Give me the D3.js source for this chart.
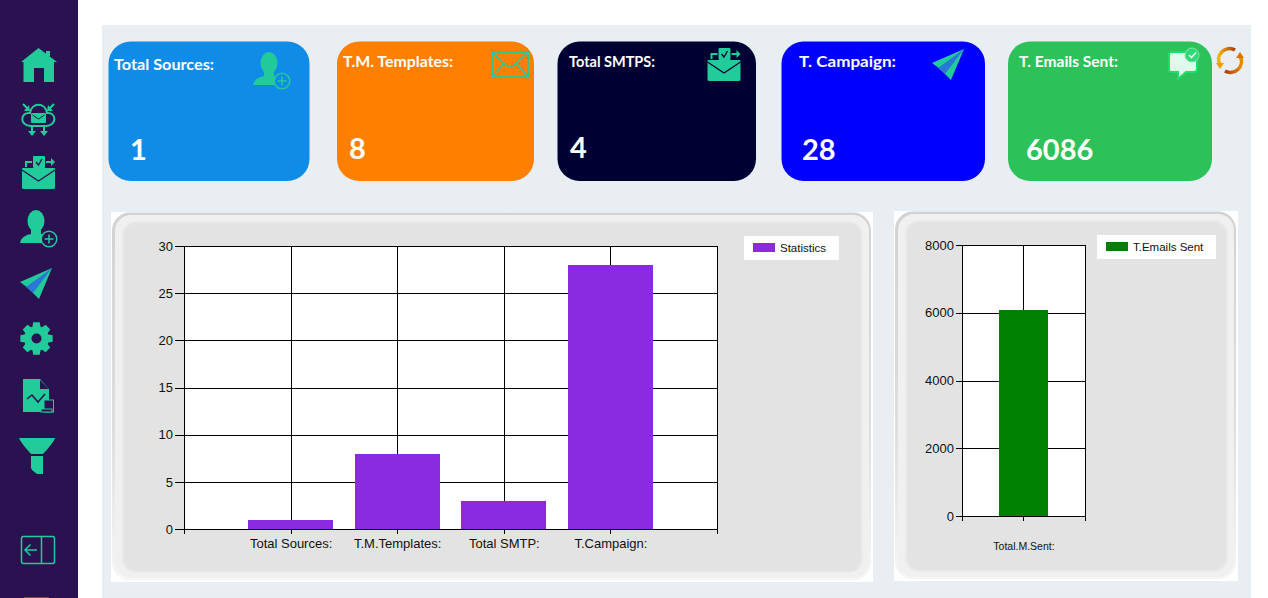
<!DOCTYPE html>
<html>
<head>
<meta charset="utf-8">
<title>Dashboard</title>
<script src="https://cdn.jsdelivr.net/npm/d3@7"></script>
<style>
    html, body { margin: 0; padding: 0; background: #fff; overflow: hidden; }
    svg { display: block; }
    .card-text { font-family: Lato, "Open Sans", sans-serif; font-weight: 700; fill: #fff; }
    .chart-text { font-family: "Liberation Sans", Arial, sans-serif; fill: #111; }
</style>
</head>
<body>
<div id="dashboard"></div>
<script>
// Values
const cardLabels = ["Total Sources:", "T.M. Templates:", "Total SMTPS:", "T. Campaign:", "T. Emails Sent:"];
const cardValues = [1, 8, 4, 28, 6086];

const statCategories = ["Total Sources:", "T.M.Templates:", "Total SMTP:", "T.Campaign:"];
const statValues = [1, 8, 3, 28];
const statTicks = [0, 5, 10, 15, 20, 25, 30];
const statSeries = "Statistics";

const sentCategories = ["Total.M.Sent:"];
const sentValues = [6086];
const sentTicks = [0, 2000, 4000, 6000, 8000];
const sentSeries = "T.Emails Sent";

// Layout of the cards
const cardBoxes = [
    { x: 108.5, w: 201, fill: "#118ce6", labelX: 114, labelY: 70, labelW: 100, valueX: 130, valueY: 160 },
    { x: 337, w: 197, fill: "#ff8000", labelX: 343, labelY: 67, labelW: 110, valueX: 349, valueY: 159 },
    { x: 557.5, w: 198.5, fill: "#000033", labelX: 569, labelY: 67, labelW: 86, valueX: 570, valueY: 158 },
    { x: 781.5, w: 203.5, fill: "#0000ff", labelX: 799, labelY: 67, labelW: 97, valueX: 802, valueY: 160 },
    { x: 1008, w: 204, fill: "#2dc259", labelX: 1019, labelY: 67, labelW: 99, valueX: 1026, valueY: 160 }
];

const teal = "#22cb9a";
const navy = "#2a1150";

const svg = d3.select("#dashboard").append("svg")
    .attr("width", 1268)
    .attr("height", 598);

const defs = svg.append("defs");
defs.append("filter").attr("id", "soft").append("feGaussianBlur").attr("stdDeviation", 1.2);
defs.append("filter").attr("id", "softer").append("feGaussianBlur").attr("stdDeviation", 0.6);

// Background
svg.append("rect").attr("x", 102).attr("y", 25).attr("width", 1149).attr("height", 573).attr("fill", "#e9eef3");
svg.append("rect").attr("width", 78).attr("height", 598).attr("fill", navy);
svg.append("rect").attr("x", 24).attr("y", 597).attr("width", 25).attr("height", 1).attr("fill", "#b03040");

// ---- icons, each drawn from its own top left corner ----
function iconHome(g) {
    g.append("path").attr("fill", teal)
        .attr("d", "M17.5 0 L36 14 L33 14 L33 34 L23 34 L23 20 L13 20 L13 34 L2.5 34 L2.5 14 L0 14 Z");
    g.append("rect").attr("x", 25).attr("y", 3).attr("width", 4).attr("height", 5).attr("fill", teal);
}

function iconCloud(g) {
    g.append("path").attr("fill", "none").attr("stroke", teal).attr("stroke-width", 2)
        .attr("d", "M9 23 C-3 23 -2 9 8 10 C10 -1 23 -1 25 10 C35 9 35 23 24 23 Z");
    g.append("rect").attr("x", 9).attr("y", 10).attr("width", 15).attr("height", 10).attr("rx", 1).attr("fill", teal);
    g.append("path").attr("fill", "none").attr("stroke", navy).attr("d", "M10.5 12 L16.5 16 L22.5 12");
    g.append("path").attr("fill", "none").attr("stroke", teal).attr("stroke-width", 2)
        .attr("d", "M1 1 L6 6 M32 1 L27 6 M10 23 L10 29 M22 23 L22 29");
    g.append("path").attr("fill", teal)
        .attr("d", "M7 2 L8 8 L2 8 Z M26 2 L25 8 L31 8 Z M6 28 L14 28 L10 33 Z M18 28 L26 28 L22 33 Z");
}

function iconEnvelopeCheck(g, back) {
    g.append("rect").attr("x", 11).attr("y", 0).attr("width", 12).attr("height", 12).attr("rx", 1).attr("fill", teal);
    g.append("path").attr("fill", "none").attr("stroke", back).attr("stroke-width", 1.3).attr("d", "M14 6 L16.5 9 L20 3");
    g.append("path").attr("fill", "none").attr("stroke", teal).attr("stroke-width", 2).attr("d", "M4 11 L4 6 L10 6 M24 6 L30 6");
    g.append("path").attr("fill", teal).attr("d", "M29 2 L33 6 L29 10 Z");
    g.append("path").attr("fill", teal).attr("d", "M1 12 L32 12 Q33 12 33 13 L33 32 Q33 33 31 33 L2 33 Q0 33 0 32 L0 13 Q0 12 1 12 Z");
    g.append("path").attr("fill", "none").attr("stroke", back).attr("stroke-width", 1.2).attr("d", "M0 14 L16.5 25 L33 14");
}

function iconUser(g, back, fill) {
    g.append("ellipse").attr("cx", 16).attr("cy", 10).attr("rx", 8.5).attr("ry", 11).attr("fill", fill);
    g.append("path").attr("fill", fill).attr("d", "M0 32 Q1 25 11 23 L11 17 L21 17 L21 23 Q27 24 29 32 Z");
    g.append("circle").attr("cx", 29).attr("cy", 28).attr("r", 7.8).attr("fill", back).attr("stroke", fill).attr("stroke-width", 1.5);
    g.append("path").attr("fill", "none").attr("stroke", fill).attr("stroke-width", 1.5).attr("d", "M24.5 28 L33.5 28 M29 23.5 L29 32.5");
}

function iconPlane(g) {
    g.append("path").attr("fill", teal).attr("d", "M32 0 L0 14 L8 20 L19 31 Z");
    g.append("path").attr("fill", "#2a78d6").attr("d", "M32 0 L6 19 L13 25 Z");
}

function iconGear(g) {
    // 8 teeth around a ring
    const r1 = 16.5, r2 = 12.5;
    const pts = [];
    for (let i = 0; i < 8; i++) {
        const a = i * Math.PI / 4 - Math.PI / 2;
        [[-0.33, r2], [-0.2, r1], [0.2, r1], [0.33, r2]].forEach(p => {
            pts.push([17 + p[1] * Math.cos(a + p[0]), 17 + p[1] * Math.sin(a + p[0])]);
        });
    }
    g.append("path").attr("fill", teal).attr("d", d3.line()(pts) + "Z");
    g.append("circle").attr("cx", 17).attr("cy", 17).attr("r", 5).attr("fill", navy);
}

function iconFile(g) {
    g.append("path").attr("fill", teal).attr("d", "M0 0 L17 0 L26 10 L26 33 L0 33 Z");
    g.append("path").attr("fill", navy).attr("d", "M17 1 L26 10 L17 10 Z");
    g.append("path").attr("fill", "none").attr("stroke", navy).attr("stroke-width", 1.5).attr("d", "M4 20 L9 16 L15 23 L22 15");
    g.append("rect").attr("x", 21).attr("y", 21).attr("width", 9.5).attr("height", 12).attr("fill", navy).attr("stroke", teal);
    g.append("rect").attr("x", 18).attr("y", 30).attr("width", 11).attr("height", 3).attr("fill", navy).attr("stroke", teal);
}

function iconFunnel(g) {
    g.append("path").attr("fill", teal).attr("d", "M0 0 L36 0 Q35 4 24 16 L12 16 Q2 5 0 0 Z");
    g.append("path").attr("fill", teal).attr("d", "M12 18 L24 18 L24 36 L18 36 L13 32 L12 30 Z");
}

function iconBack(g) {
    g.append("rect").attr("x", 0.5).attr("y", 0.5).attr("width", 33).attr("height", 27).attr("rx", 2)
        .attr("fill", "none").attr("stroke", teal).attr("stroke-width", 1.5);
    g.append("path").attr("fill", "none").attr("stroke", teal).attr("stroke-width", 1.5)
        .attr("d", "M20.5 0.5 L20.5 27.5 M4 14 L16 14 M9.5 8.5 L4 14 L9.5 19.5");
}

function iconMail(g) {
    g.append("rect").attr("x", 1).attr("y", 1).attr("width", 36).attr("height", 25).attr("fill", "none").attr("stroke", teal).attr("stroke-width", 1.8);
    g.append("path").attr("fill", "none").attr("stroke", teal).attr("stroke-width", 1.5)
        .attr("d", "M1 1 L16 15 Q19 17 22 15 L37 1 M1 26 L13 12 M37 26 L25 12");
}

function iconChat(g) {
    g.append("path").attr("fill", "#dff9ea").attr("stroke", "#18e06d").attr("stroke-width", 2)
        .attr("d", "M3 4 L26 4 Q29 4 29 7 L29 21 Q29 24 26 24 L18 24 L10 31 L10 24 L3 24 Q1 24 1 21 L1 7 Q1 4 3 4 Z");
    g.append("circle").attr("cx", 24).attr("cy", 7).attr("r", 7).attr("fill", "#2fd97a").attr("stroke", "#7be8aa");
    g.append("path").attr("fill", "none").attr("stroke", "#dff9ea").attr("stroke-width", 1.6).attr("d", "M21 7 L23.5 9.5 L28 4.5");
}

function iconRefresh(g) {
    const top = defs.append("linearGradient").attr("id", "refreshTop");
    top.append("stop").attr("offset", 0).attr("stop-color", "#f5b400");
    top.append("stop").attr("offset", 1).attr("stop-color", "#a83c10");
    const low = defs.append("linearGradient").attr("id", "refreshLow");
    low.append("stop").attr("offset", 0).attr("stop-color", "#a83c10");
    low.append("stop").attr("offset", 1).attr("stop-color", "#ef8a00");
    g.append("path").attr("fill", "none").attr("stroke", "url(#refreshTop)").attr("stroke-width", 3.6)
        .attr("d", "M3 18 A11 11 0 0 1 18 3");
    g.append("path").attr("fill", "none").attr("stroke", "url(#refreshLow)").attr("stroke-width", 3.6)
        .attr("d", "M23 9 A11 11 0 0 1 8 24");
    g.append("path").attr("fill", "#efa000").attr("d", "M-1 16 L7 16 L3 22 Z");
    g.append("path").attr("fill", "#e07000").attr("d", "M19 11 L27 11 L23 5 Z");
}

function placeIcon(x, y, draw, ...args) {
    const g = svg.append("g").attr("transform", `translate(${x},${y})`);
    draw(g, ...args);
}

// Side menu
placeIcon(21, 48, iconHome);
placeIcon(22, 103, iconCloud);
placeIcon(22, 156, iconEnvelopeCheck, navy);
placeIcon(20, 211, iconUser, navy, teal);
placeIcon(20, 268, iconPlane);
placeIcon(19.5, 321.5, iconGear);
placeIcon(23, 379, iconFile);
placeIcon(19, 438, iconFunnel);
placeIcon(21, 536, iconBack);

// ---- cards ----
const cards = svg.selectAll("g.card")
    .data(cardValues)
    .join("g")
    .attr("class", "card");

cards.append("rect")
    .attr("x", (d, i) => cardBoxes[i].x)
    .attr("y", 41.5)
    .attr("width", (d, i) => cardBoxes[i].w)
    .attr("height", 139.5)
    .attr("rx", 22)
    .attr("fill", (d, i) => cardBoxes[i].fill);

cards.append("text")
    .attr("class", "card-text")
    .attr("x", (d, i) => cardBoxes[i].labelX)
    .attr("y", (d, i) => cardBoxes[i].labelY)
    .attr("font-size", 16)
    .attr("textLength", (d, i) => cardBoxes[i].labelW)
    .attr("lengthAdjust", "spacingAndGlyphs")
    .text((d, i) => cardLabels[i]);

cards.append("text")
    .attr("class", "card-text")
    .attr("x", (d, i) => cardBoxes[i].valueX)
    .attr("y", (d, i) => cardBoxes[i].valueY)
    .attr("font-size", 29)
    .text(d => d);

placeIcon(253, 53, iconUser, "#118ce6", "#22c99a");
placeIcon(491, 51, iconMail);
placeIcon(707.5, 48, iconEnvelopeCheck, "#000033");
placeIcon(932, 49, iconPlane);
placeIcon(1168, 48, iconChat);
placeIcon(1217, 47, iconRefresh);

// ---- chart panels ----
function drawFrame(x, y, w, h) {
    svg.append("rect").attr("x", x).attr("y", y).attr("width", w).attr("height", h).attr("fill", "#fff");
    const id = "frame" + x;
    const grad = defs.append("linearGradient").attr("id", id).attr("x1", 0).attr("y1", 0).attr("x2", 0).attr("y2", 1);
    grad.append("stop").attr("offset", 0).attr("stop-color", "#d2d2d2");
    grad.append("stop").attr("offset", 0.6).attr("stop-color", "#dedede");
    grad.append("stop").attr("offset", 1).attr("stop-color", "#f6f6f6");
    svg.append("rect").attr("x", x + 1).attr("y", y + 0.5).attr("width", w - 3).attr("height", h - 2).attr("rx", 18)
        .attr("fill", `url(#${id})`).attr("filter", "url(#softer)");
    svg.append("rect").attr("x", x + 4).attr("y", y + 3).attr("width", w - 8).attr("height", h - 7).attr("rx", 16)
        .attr("fill", "#f0f0f0").attr("filter", "url(#softer)");
    svg.append("rect").attr("x", x + 12).attr("y", y + 10).attr("width", w - 23).attr("height", h - 20).attr("rx", 13)
        .attr("fill", "#e3e3e3").attr("filter", "url(#soft)");
}

function drawChart(opt) {
    drawFrame(opt.frame[0], opt.frame[1], opt.frame[2], opt.frame[3]);

    // Blank slots at both ends so that the category ticks start on the plot edges
    const x = d3.scalePoint()
        .domain(["start", ...opt.categories, "end"])
        .range([opt.left, opt.right]);
    const y = d3.scaleLinear()
        .domain(opt.yDomain)
        .range([opt.bottom, opt.top]);

    const plot = svg.append("g").attr("shape-rendering", "crispEdges");

    plot.append("rect")
        .attr("x", opt.left).attr("y", opt.top)
        .attr("width", opt.right - opt.left).attr("height", opt.bottom - opt.top)
        .attr("fill", "#fff");

    // Grid
    plot.selectAll("line.hgrid").data(opt.ticks).join("line")
        .attr("class", "hgrid")
        .attr("x1", opt.left).attr("x2", opt.right)
        .attr("y1", d => y(d) + 0.5).attr("y2", d => y(d) + 0.5)
        .attr("stroke", "#000");
    plot.selectAll("line.vgrid").data(["end", ...opt.categories]).join("line")
        .attr("class", "vgrid")
        .attr("x1", d => x(d) + 0.5).attr("x2", d => x(d) + 0.5)
        .attr("y1", opt.top).attr("y2", opt.bottom)
        .attr("stroke", "#000");

    // Bars
    plot.selectAll("rect.bar").data(opt.values).join("rect")
        .attr("class", "bar")
        .attr("x", (d, i) => x(opt.categories[i]) - opt.barWidth / 2)
        .attr("width", opt.barWidth)
        .attr("y", d => y(d))
        .attr("height", d => opt.bottom - y(d))
        .attr("fill", opt.color);

    // Axes
    const yAxis = svg.append("g")
        .attr("transform", `translate(${opt.left},0)`)
        .call(d3.axisLeft(y).tickValues(opt.ticks).tickFormat(d3.format("d")).tickSize(opt.yTick).tickPadding(2).tickSizeOuter(0).offset(0.5));
    const xAxis = svg.append("g")
        .attr("transform", `translate(0,${opt.bottom})`)
        .call(d3.axisBottom(x).tickSize(5).tickSizeOuter(0).offset(0.5).tickFormat(d => opt.categories.includes(d) ? d : ""));

    [yAxis, xAxis].forEach(axis => {
        axis.attr("shape-rendering", "crispEdges");
        axis.selectAll("line, path").attr("stroke", "#000");
        axis.selectAll("text").attr("class", "chart-text").attr("fill", "#111").style("font-family", '"Liberation Sans", Arial, sans-serif');
    });
    yAxis.selectAll("text").style("font-size", opt.yFont + "px");
    xAxis.selectAll("text").style("font-size", opt.xFont + "px").attr("y", opt.xLabelY);

    // Legend
    const legend = svg.append("g").attr("transform", `translate(${opt.legend[0]},${opt.legend[1]})`);
    legend.append("rect").attr("width", opt.legend[2]).attr("height", 24).attr("fill", "#fff");
    legend.append("rect").attr("x", 9).attr("y", 7).attr("width", 22).attr("height", 9).attr("fill", opt.color);
    legend.append("text").attr("class", "chart-text").attr("x", 36).attr("y", 15.5).attr("font-size", 11.5).text(opt.series);
}

drawChart({
    frame: [111, 212, 762, 370],
    left: 184, right: 717, top: 246, bottom: 529,
    categories: statCategories, values: statValues, ticks: statTicks, yDomain: [0, 30],
    barWidth: 85, color: "#8a2be2", series: statSeries,
    legend: [744, 236, 95], yTick: 9, yFont: 13, xFont: 13, xLabelY: 10
});

drawChart({
    frame: [894, 211, 344, 370],
    left: 962, right: 1084.9, top: 245, bottom: 516,
    categories: sentCategories, values: sentValues, ticks: sentTicks, yDomain: [0, 8000],
    barWidth: 49, color: "#008000", series: sentSeries,
    legend: [1097, 235, 119], yTick: 6, yFont: 13, xFont: 10.5, xLabelY: 27
});
</script>
</body>
</html>
